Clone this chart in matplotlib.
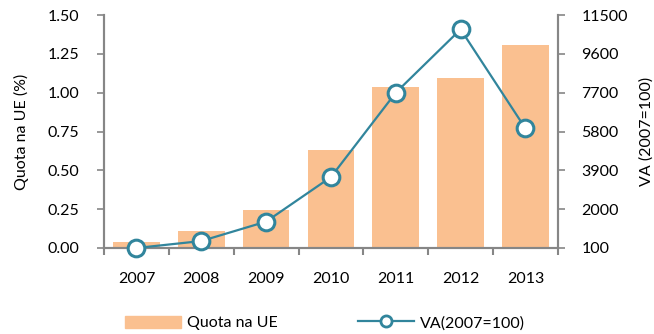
import numpy as np
import matplotlib
matplotlib.use("Agg")
import matplotlib.pyplot as plt
from matplotlib.lines import Line2D
from matplotlib.patches import Patch

anos = ["2007", "2008", "2009", "2010", "2011", "2012", "2013"]
quota_ue = [0.04, 0.11, 0.245, 0.63, 1.035, 1.095, 1.305]   # %
va_indice = [100, 440, 1390, 3570, 7700, 10800, 5950]     # 2007=100

laranja = "#FAC090"
azul = "#31859C"
cinza = "#868686"

plt.rcParams["font.family"] = ["Lato", "DejaVu Sans"]
plt.rcParams["font.size"] = 11.5

fig = plt.figure(figsize=(6.54, 3.34), dpi=100)
ax = fig.add_axes([0.159, 0.2575, 0.694, 0.6975])
x = np.arange(len(anos))

ax.bar(x, quota_ue, width=0.72, color=laranja, zorder=1)
ax.set_xlim(-0.5, len(anos) - 0.5)
ax.set_ylim(0, 1.5)
ax.set_yticks(np.arange(0, 1.51, 0.25))
ax.set_yticklabels([f"{v:.2f}" for v in np.arange(0, 1.51, 0.25)])
ax.set_ylabel("Quota na UE (%)", labelpad=13)

# ticks nas fronteiras das categorias, rótulos no centro
ax.set_xticks(np.arange(-0.5, len(anos), 1.0))
ax.set_xticklabels([])
ax.set_xticks(x, minor=True)
ax.set_xticklabels(anos, minor=True)
ax.tick_params(axis="x", which="major", direction="out", length=5, width=1.5, color=cinza)
ax.tick_params(axis="x", which="minor", length=0, pad=17)
ax.tick_params(axis="y", direction="out", length=5, width=1.2, color=cinza, pad=13)

ax2 = ax.twinx()
ax2.plot(x, va_indice, color=azul, lw=1.6, marker="o", ms=12,
         mfc="white", mec=azul, mew=2.2, zorder=3, clip_on=False)
ax2.set_ylim(100, 11500)
ax2.set_yticks(np.arange(100, 11501, 1900))
ax2.set_ylabel("VA (2007=100)", labelpad=8)
ax2.tick_params(axis="y", direction="out", length=5, width=1.2, color=cinza, pad=12)

for a in (ax, ax2):
    a.spines["top"].set_visible(False)
    for s in ("left", "right", "bottom"):
        a.spines[s].set_color(cinza)
        a.spines[s].set_linewidth(1.5)

handles = [Patch(color=laranja),
           Line2D([], [], color=azul, lw=1.6, marker="o", ms=8,
                  mfc="white", mec=azul, mew=2)]
fig.legend(handles, ["Quota na UE", "VA(2007=100)"], loc="center",
           bbox_to_anchor=(0.497, 0.033), ncol=2, frameon=False,
           handlelength=3.5, handleheight=0.8, columnspacing=5.0, handletextpad=0.4)

fig.savefig("out.png", dpi=100)
